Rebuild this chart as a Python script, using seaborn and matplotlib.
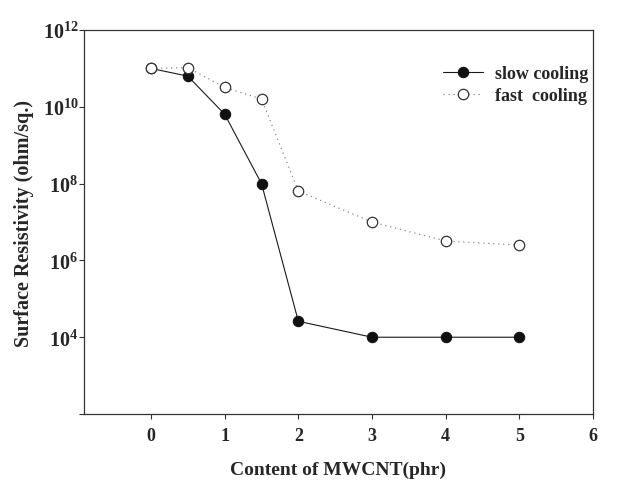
import matplotlib
matplotlib.use("Agg")
import matplotlib.pyplot as plt
import seaborn as sns
import pandas as pd
from matplotlib.ticker import FixedLocator, NullLocator

# MWCNT content (phr) and surface resistivity (ohm/sq.)
content = [0, 0.5, 1, 1.5, 2, 3, 4, 5]
slow_cooling = [1.0e11, 6.3e10, 6.4e9, 1.0e8, 2.6e4, 1.0e4, 1.0e4, 1.0e4]
fast_cooling = [1.0e11, 1.05e11, 3.2e10, 1.6e10, 6.4e7, 1.0e7, 3.2e6, 2.5e6]

x_ticks = [0, 1, 2, 3, 4, 5, 6]
y_ticks = [1e2, 1e4, 1e6, 1e8, 1e10, 1e12]
y_tick_labels = ["", r"$\mathbf{10^{4}}$", r"$\mathbf{10^{6}}$", r"$\mathbf{10^{8}}$",
                 r"$\mathbf{10^{10}}$", r"$\mathbf{10^{12}}$"]

sns.set_style("ticks")
plt.rcParams["font.family"] = ["Liberation Serif", "DejaVu Serif"]
plt.rcParams["font.weight"] = "bold"
plt.rcParams["mathtext.fontset"] = "custom"
plt.rcParams["mathtext.rm"] = "Liberation Serif"
plt.rcParams["mathtext.bf"] = "Liberation Serif:bold"

df = pd.DataFrame({
    "content": content * 2,
    "resistivity": slow_cooling + fast_cooling,
    "series": ["slow cooling"] * len(content) + ["fast  cooling"] * len(content),
})

fig = plt.figure(figsize=(6.24, 4.85), dpi=100)
ax = fig.add_axes([0.1346, 0.1443, 0.8157, 0.7917])

sns.lineplot(data=df[df.series == "slow cooling"], x="content", y="resistivity",
             ax=ax, color="#1a1a1a", linewidth=0.8, marker="o", markersize=7.5,
             markerfacecolor="#111111", markeredgecolor="#111111",
             label="slow cooling")
sns.lineplot(data=df[df.series == "fast  cooling"], x="content", y="resistivity",
             ax=ax, color="#8a8a8a", linewidth=0.9, linestyle=(0, (1, 3)),
             marker="o", markersize=7.5, markerfacecolor="white",
             markeredgecolor="#333333", markeredgewidth=0.9,
             label="fast  cooling")

ax.set_yscale("log")
ax.set_xlim(-0.91, 6)
ax.set_ylim(1e2, 1e12)
ax.xaxis.set_major_locator(FixedLocator(x_ticks))
ax.yaxis.set_major_locator(FixedLocator(y_ticks))
ax.yaxis.set_minor_locator(NullLocator())
ax.set_yticklabels(y_tick_labels)
ax.tick_params(axis="both", which="major", direction="out", length=3.5,
               width=0.8, color="#333333")
ax.tick_params(axis="x", labelsize=13, pad=6)
ax.tick_params(axis="y", labelsize=14.5, pad=0.5)
for lbl in ax.get_xticklabels():
    lbl.set_fontweight("bold")

for side in ["left", "right", "top", "bottom"]:
    ax.spines[side].set_visible(True)
    ax.spines[side].set_linewidth(0.9)
    ax.spines[side].set_color("#333333")

ax.set_xlabel("Content of MWCNT(phr)", fontsize=14, fontweight="bold", labelpad=12)
ax.set_ylabel("Surface Resistivity (ohm/sq.)", fontsize=14.5, fontweight="bold", labelpad=6)

leg = ax.legend(loc="upper right", bbox_to_anchor=(1.022, 0.95), frameon=False,
                fontsize=13, handlelength=2.2, handletextpad=0.65, labelspacing=0.25)
for t in leg.get_texts():
    t.set_fontweight("bold")

fig.savefig("out.png", dpi=100)
